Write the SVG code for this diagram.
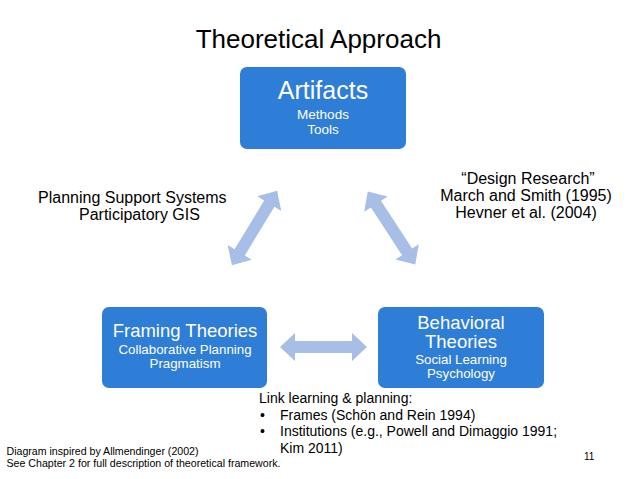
<svg xmlns="http://www.w3.org/2000/svg" width="638" height="479" viewBox="0 0 638 479">
<style>
text{font-family:"Liberation Sans",Arial,sans-serif;}
.box{fill:#2e7dd6;}
.w{fill:#ffffff;text-anchor:middle;}
.k{fill:#000000;}
.c{text-anchor:middle;}
.arr{fill:#a7bee6;}
</style>
<defs>
<path id="dbl" d="M-43.5,0 L-28.5,-14 L-28.5,-6 L28.5,-6 L28.5,-14 L43.5,0 L28.5,14 L28.5,6 L-28.5,6 L-28.5,14 Z"/>
</defs>
<rect width="638" height="479" fill="#ffffff"/>
<text class="k c" x="318.5" y="48" font-size="26">Theoretical Approach</text>

<g id="connectors" class="arr">
<use href="#dbl" transform="translate(254.5,228) rotate(121.3)"/>
<use href="#dbl" transform="translate(391.5,228) rotate(56.9)"/>
<use href="#dbl" transform="translate(323.5,347)"/>
</g>

<g id="artifacts">
<rect class="box" x="240" y="67" width="166" height="82" rx="7"/>
<text class="w" x="323" y="99" font-size="25">Artifacts</text>
<text class="w" x="323" y="118.5" font-size="13.5">Methods</text>
<text class="w" x="323" y="133.5" font-size="13.5">Tools</text>
</g>

<g id="framing">
<rect class="box" x="102" y="307" width="165" height="81" rx="7"/>
<text class="w" x="185" y="337" font-size="18.5">Framing Theories</text>
<text class="w" x="185" y="354" font-size="13.3">Collaborative Planning</text>
<text class="w" x="185" y="368" font-size="13.3">Pragmatism</text>
</g>

<g id="behavioral">
<rect class="box" x="378" y="307" width="166" height="81" rx="7"/>
<text class="w" x="461" y="328.5" font-size="18.5">Behavioral</text>
<text class="w" x="461" y="347.5" font-size="18.5">Theories</text>
<text class="w" x="461" y="364" font-size="13.3">Social Learning</text>
<text class="w" x="461" y="378" font-size="13.3">Psychology</text>
</g>

<g id="left-note" class="k" font-size="16">
<text x="38" y="203">Planning Support Systems</text>
<text x="79" y="219.5">Participatory GIS</text>
</g>

<g id="right-note" class="k c" font-size="16">
<text x="528" y="184">“Design Research”</text>
<text x="526" y="201">March and Smith (1995)</text>
<text x="526" y="218">Hevner et al. (2004)</text>
</g>

<g id="link-note" class="k" font-size="14">
<text x="259" y="403">Link learning &amp; planning:</text>
<text x="260" y="419.7">•</text>
<text x="280" y="419.7">Frames (Schön and Rein 1994)</text>
<text x="260" y="436.3">•</text>
<text x="280" y="436.3">Institutions (e.g., Powell and Dimaggio 1991;</text>
<text x="280" y="453">Kim 2011)</text>
</g>

<g id="footer" class="k" font-size="11">
<text x="6.5" y="455" textLength="192" lengthAdjust="spacingAndGlyphs">Diagram inspired by Allmendinger (2002)</text>
<text x="6.5" y="467" textLength="274" lengthAdjust="spacingAndGlyphs">See Chapter 2 for full description of theoretical framework.</text>
<text x="584" y="460" font-size="10">11</text>
</g>
</svg>
